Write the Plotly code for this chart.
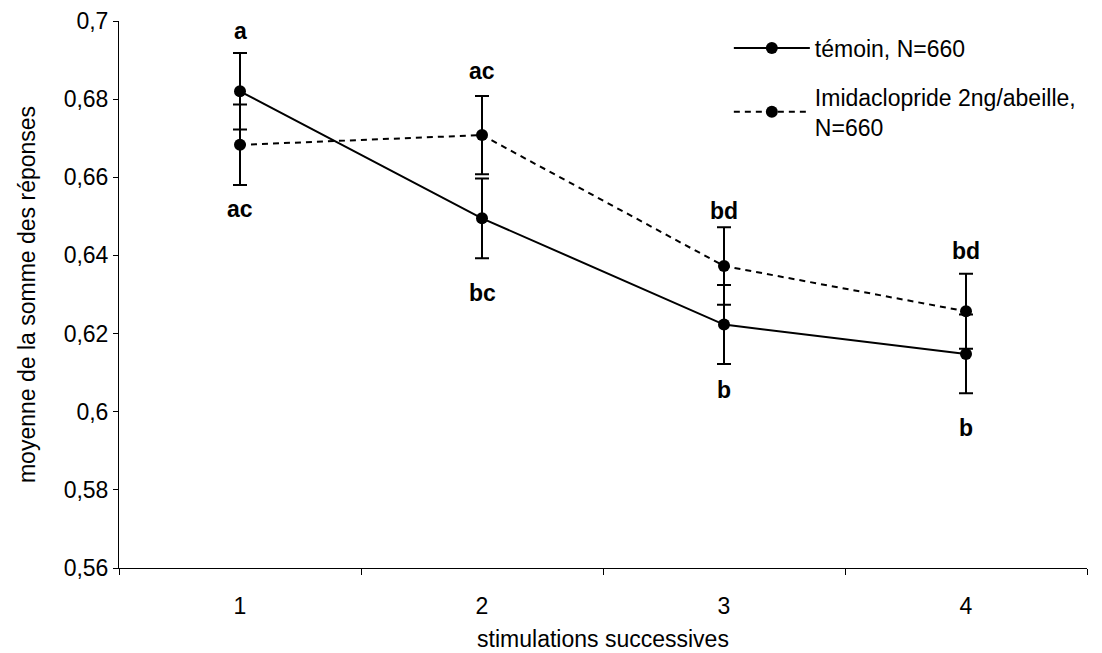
import plotly.graph_objects as go

stimulations = [1, 2, 3, 4]
x_tick_labels = ["1", "2", "3", "4"]

temoin_mean = [0.6820, 0.6495, 0.6223, 0.6148]
temoin_err = [0.0098, 0.0102, 0.0101, 0.0101]
imida_mean = [0.6683, 0.6708, 0.6373, 0.6257]
imida_err = [0.0103, 0.0100, 0.0099, 0.0096]

y_tick_vals = [0.56, 0.58, 0.60, 0.62, 0.64, 0.66, 0.68, 0.70]
y_tick_labels = ["0,56", "0,58", "0,6", "0,62", "0,64", "0,66", "0,68", "0,7"]

letters = ["a", "ac", "ac", "bc", "bd", "b", "bd", "b"]
letters_x = [1, 1, 2, 2, 3, 3, 4, 4]
letters_y = [0.6974, 0.6520, 0.6872, 0.6305, 0.6515, 0.6055, 0.6412, 0.5958]

name_temoin = "témoin, N=660"
name_imida = "Imidaclopride 2ng/abeille,<br>N=660"

FONT = "Liberation Sans, Arial, sans-serif"
FS = 23

fig = go.Figure()
fig.add_trace(go.Scatter(
    x=stimulations, y=temoin_mean, name=name_temoin, mode="lines+markers",
    line=dict(color="black", width=2),
    marker=dict(color="black", size=12),
    error_y=dict(type="data", array=temoin_err, visible=True, color="black", thickness=2, width=7),
    legendgroup="t",
))
fig.add_trace(go.Scatter(
    x=stimulations, y=imida_mean, name=name_imida, mode="lines+markers",
    line=dict(color="black", width=2, dash="6px,5px"),
    marker=dict(color="black", size=12),
    error_y=dict(type="data", array=imida_err, visible=True, color="black", thickness=2, width=7),
    legendgroup="i",
))

for t, xv, yv in zip(letters, letters_x, letters_y):
    fig.add_annotation(x=xv, y=yv, text="<b>" + t + "</b>", showarrow=False,
                       font=dict(family=FONT, size=FS, color="black"),
                       xanchor="center", yanchor="middle")

fig.update_layout(
    width=1102, height=653,
    paper_bgcolor="white", plot_bgcolor="white",
    margin=dict(l=111, r=23, t=13, b=93),
    font=dict(family=FONT, size=FS, color="black"),
    showlegend=True,
    legend=dict(x=0.63, y=0.99, xanchor="left", yanchor="top",
                bgcolor="rgba(0,0,0,0)", itemwidth=76, tracegroupgap=16,
                font=dict(family=FONT, size=FS, color="black")),
)
fig.update_xaxes(
    range=[0.5, 4.5], tickvals=stimulations, ticktext=x_tick_labels,
    ticks="", showgrid=False, zeroline=False, automargin=False,
    showline=True, linecolor="black", linewidth=1,
    minor=dict(tickmode="array", tickvals=[0.5, 1.5, 2.5, 3.5, 4.5], ticks="outside",
               ticklen=6, tickcolor="black", tickwidth=1, showgrid=False),
    title=dict(text="stimulations successives", font=dict(family=FONT, size=FS), standoff=13),
    ticklabelstandoff=17,
)
fig.update_yaxes(
    range=[0.56, 0.70], tickvals=y_tick_vals, ticktext=y_tick_labels,
    ticks="outside", ticklen=5, tickcolor="black", tickwidth=1,
    showgrid=False, zeroline=False, automargin=False,
    showline=True, linecolor="black", linewidth=1,
    title=dict(text="moyenne de la somme des réponses", font=dict(family=FONT, size=FS), standoff=21),
)

fig.write_html("out.html")
